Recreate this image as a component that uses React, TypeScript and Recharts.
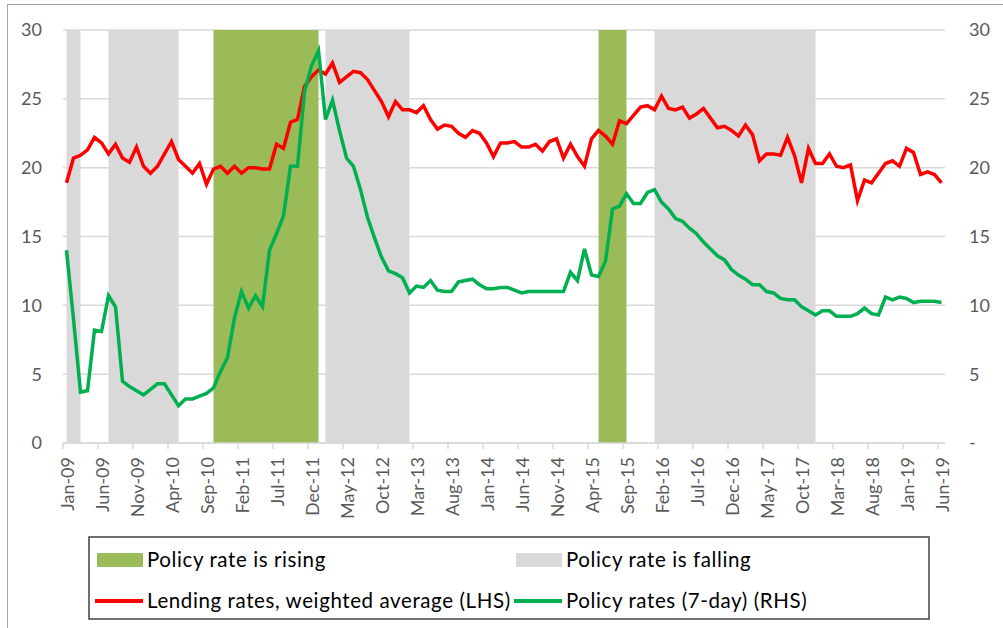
import React from "react";
import {
  ComposedChart,
  Line,
  Area,
  XAxis,
  YAxis,
  CartesianGrid,
} from "recharts";

const MONTH_NAMES = ["Jan", "Feb", "Mar", "Apr", "May", "Jun", "Jul", "Aug", "Sep", "Oct", "Nov", "Dec"];

// Jan-09 .. Jun-19
const months: string[] = [];
for (let y = 9; y <= 19; y++) {
  for (let m = 0; m < 12; m++) {
    if (y === 19 && m > 5) break;
    months.push(`${MONTH_NAMES[m]}-${String(y).padStart(2, "0")}`);
  }
}

const lendingRates = [
  18.9, 20.7, 20.9, 21.3, 22.2, 21.8, 21.0, 21.7, 20.7, 20.4, 21.5, 20.1,
  19.6, 20.1, 21.0, 21.9, 20.6, 20.1, 19.6, 20.3, 18.8, 19.9, 20.1, 19.6,
  20.1, 19.6, 20.0, 20.0, 19.9, 19.9, 21.7, 21.4, 23.3, 23.5, 25.9, 26.6,
  27.1, 26.8, 27.6, 26.2, 26.6, 27.0, 26.9, 26.4, 25.6, 24.8, 23.7, 24.8,
  24.2, 24.2, 24.0, 24.5, 23.5, 22.8, 23.1, 23.0, 22.5, 22.2, 22.7, 22.5,
  21.8, 20.8, 21.8, 21.8, 21.9, 21.5, 21.5, 21.7, 21.2, 21.9, 22.1, 20.7,
  21.7, 20.8, 20.1, 22.1, 22.7, 22.3, 21.7, 23.4, 23.2, 23.8, 24.4, 24.5,
  24.2, 25.2, 24.3, 24.2, 24.4, 23.6, 23.9, 24.3, 23.6, 22.9, 23.0, 22.7,
  22.3, 23.1, 22.4, 20.5, 21.0, 21.0, 20.9, 22.2, 20.9, 18.9, 21.4, 20.3,
  20.3, 21.0, 20.1, 20.0, 20.2, 17.6, 19.1, 18.9, 19.6, 20.3, 20.5, 20.1,
  21.4, 21.1, 19.5, 19.7, 19.5, 18.9,
];

const policyRates = [
  14.0, 9.0, 3.7, 3.8, 8.2, 8.1, 10.7, 9.9, 4.5, 4.1, 3.8, 3.5,
  3.9, 4.3, 4.3, 3.5, 2.7, 3.2, 3.2, 3.4, 3.6, 4.0, 5.2, 6.2,
  9.1, 11.0, 9.8, 10.7, 9.9, 14.0, 15.2, 16.5, 20.1, 20.1, 25.5, 27.4,
  28.5, 23.5, 24.9, 22.7, 20.7, 20.1, 18.4, 16.4, 14.9, 13.5, 12.5, 12.3,
  12.0, 10.9, 11.4, 11.3, 11.8, 11.1, 11.0, 11.0, 11.7, 11.8, 11.9, 11.5,
  11.2, 11.2, 11.3, 11.3, 11.1, 10.9, 11.0, 11.0, 11.0, 11.0, 11.0, 11.0,
  12.4, 11.8, 14.1, 12.2, 12.1, 13.2, 17.0, 17.2, 18.1, 17.4, 17.4, 18.2,
  18.4, 17.5, 17.0, 16.3, 16.1, 15.6, 15.2, 14.6, 14.1, 13.6, 13.3, 12.6,
  12.2, 11.9, 11.5, 11.5, 11.0, 10.9, 10.5, 10.4, 10.4, 9.9, 9.6, 9.3,
  9.6, 9.6, 9.2, 9.2, 9.2, 9.4, 9.8, 9.4, 9.3, 10.6, 10.4, 10.6,
  10.5, 10.2, 10.3, 10.3, 10.3, 10.2,
];

const risingPeriods: [string, string][] = [
  ["Oct-10", "Jan-12"],
  ["May-15", "Sep-15"],
];

const fallingPeriods: [string, string][] = [
  ["Jan-09", "Mar-09"],
  ["Jul-09", "May-10"],
  ["Feb-12", "Feb-13"],
  ["Jan-16", "Dec-17"],
];

const yTicks = [0, 5, 10, 15, 20, 25, 30];
const Y_MAX = 30;

const inPeriod = (i: number, periods: [string, string][]) =>
  periods.some(([a, b]) => i >= months.indexOf(a) && i <= months.indexOf(b));

const data = months.map((month, i) => ({
  month,
  lending: lendingRates[i],
  policy: policyRates[i],
  rising: inPeriod(i, risingPeriods) ? Y_MAX : null,
  falling: inPeriod(i, fallingPeriods) ? Y_MAX : null,
}));

const FONT = "Lato, 'Open Sans', sans-serif";
const AXIS_COLOR = "#595959";

const MonthTick = (props: any) => {
  const { x, y, payload } = props;
  return (
    <g>
      <line x1={x - 3.5} x2={x - 3.5} y1={y} y2={y + 6} stroke="#d9d9d9" strokeWidth={1.5} />
      <text
        transform={`translate(${x + 1},${y + 14}) rotate(-90)`}
        textAnchor="end"
        dy="0.35em"
        fill={AXIS_COLOR}
        fontSize={18}
        fontFamily={FONT}
      >
        {payload.value}
      </text>
    </g>
  );
};

const legendItems = [
  { label: "Policy rate is rising", kind: "rect", color: "#9bbb59", x: 97, y: 560 },
  { label: "Policy rate is falling", kind: "rect", color: "#d9d9d9", x: 516, y: 560 },
  { label: "Lending rates, weighted average (LHS)", kind: "line", color: "#ff0000", x: 97, y: 601 },
  { label: "Policy rates (7-day) (RHS)", kind: "line", color: "#00b050", x: 516, y: 601 },
];

export default function App() {
  return (
    <div
      style={{
        position: "absolute",
        left: 0,
        top: 0,
        width: 1003,
        height: 628,
        overflow: "hidden",
        background: "#fff",
      }}
    >
      <div
        style={{
          position: "absolute",
          left: 7,
          top: 4,
          width: 1020,
          height: 660,
          border: "1.5px solid #a6a6a6",
        }}
      />
      <div style={{ position: "absolute", left: 0, top: 0 }}>
        <ComposedChart
          width={1003}
          height={628}
          data={data}
          margin={{ top: 30, right: 0, bottom: 115, left: 0 }}
        >
          <CartesianGrid vertical={false} stroke="#d9d9d9" strokeWidth={1.5} yAxisId="left" />
          <XAxis
            dataKey="month"
            interval={4}
            padding={{ left: 3.5, right: 3.5 }}
            height={70}
            tickSize={0}
            tickMargin={0}
            tickLine={false}
            axisLine={{ stroke: "#d9d9d9", strokeWidth: 1.5 }}
            tick={<MonthTick />}
          />
          <YAxis
            yAxisId="left"
            orientation="left"
            width={63}
            domain={[0, Y_MAX]}
            ticks={yTicks}
            axisLine={false}
            tickLine={false}
            tickSize={0}
            tickMargin={21}
            tick={{ fill: AXIS_COLOR, fontSize: 18, fontFamily: FONT }}
          />
          <YAxis
            yAxisId="right"
            orientation="right"
            width={58}
            domain={[0, Y_MAX]}
            ticks={yTicks}
            axisLine={false}
            tickLine={false}
            tickSize={0}
            tickMargin={24}
            tickFormatter={(v) => (v === 0 ? "-" : `${v}`)}
            tick={{ fill: AXIS_COLOR, fontSize: 18, fontFamily: FONT }}
          />
          <Area
            yAxisId="left"
            dataKey="falling"
            type="linear"
            stroke="none"
            fill="#d9d9d9"
            fillOpacity={1}
            isAnimationActive={false}
            name="Policy rate is falling"
          />
          <Area
            yAxisId="left"
            dataKey="rising"
            type="linear"
            stroke="none"
            fill="#9bbb59"
            fillOpacity={1}
            isAnimationActive={false}
            name="Policy rate is rising"
          />
          <Line
            yAxisId="left"
            dataKey="lending"
            type="linear"
            stroke="#ff0000"
            strokeWidth={3.5}
            dot={false}
            isAnimationActive={false}
            name="Lending rates, weighted average (LHS)"
          />
          <Line
            yAxisId="right"
            dataKey="policy"
            type="linear"
            stroke="#00b050"
            strokeWidth={3.5}
            dot={false}
            isAnimationActive={false}
            name="Policy rates (7-day) (RHS)"
          />
        </ComposedChart>
      </div>
      <svg
        width={1003}
        height={628}
        style={{ position: "absolute", left: 0, top: 0, pointerEvents: "none" }}
      >
        <rect x={89} y={537} width={840} height={82} fill="none" stroke="#404040" strokeWidth={1.5} />
        {legendItems.map((it) => (
          <g key={it.label}>
            {it.kind === "rect" ? (
              <rect x={it.x} y={it.y - 7} width={46} height={14} fill={it.color} />
            ) : (
              <line x1={it.x - 2} x2={it.x + 46} y1={it.y} y2={it.y} stroke={it.color} strokeWidth={4} />
            )}
            <text
              x={it.x + 50}
              y={it.y + 7}
              fontSize={20.5}
              letterSpacing={0.6}
              fontFamily={FONT}
              fill="#000"
            >
              {it.label}
            </text>
          </g>
        ))}
      </svg>
    </div>
  );
}
